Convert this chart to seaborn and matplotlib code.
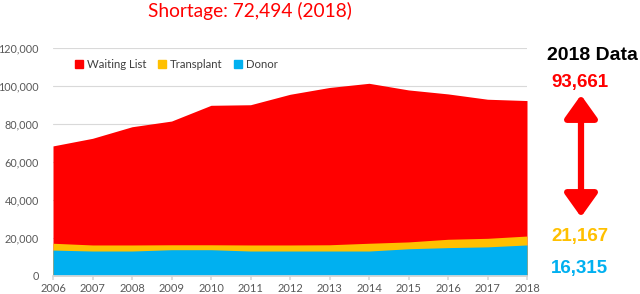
import numpy as np
import pandas as pd
import matplotlib
matplotlib.use("Agg")
import matplotlib.pyplot as plt
import seaborn as sns
from matplotlib.patches import Patch

# values
years = [2006, 2007, 2008, 2009, 2010, 2011, 2012, 2013, 2014, 2015, 2016, 2017, 2018]
waiting_list = [68400, 72400, 78500, 81500, 89800, 90100, 95600, 99200, 101400, 97900, 95800, 93000, 92300]
transplant = [17100, 16200, 16200, 16300, 16300, 16200, 16200, 16300, 17100, 17800, 19200, 19700, 20900]
donor = [13500, 13000, 13000, 13700, 13700, 13000, 13000, 13000, 13000, 14200, 14800, 15200, 16200]

series_names = ["Waiting List", "Transplant", "Donor"]
series_colors = ["#FF0000", "#FFC000", "#00B0F0"]
y_ticks = [0, 20000, 40000, 60000, 80000, 100000, 120000]

title_text = "Shortage: 72,494 (2018)"
side_title = "2018 Data"
side_labels = ["93,661", "21,167", "16,315"]

df = pd.DataFrame({"year": years, "Waiting List": waiting_list,
                   "Transplant": transplant, "Donor": donor})

sns.set_theme(style="white")
plt.rcParams["font.family"] = ["Lato", "DejaVu Sans"]

fig = plt.figure(figsize=(6.4, 2.94), dpi=100)
ax = fig.add_axes([53 / 640, 1 - 275.7 / 294, (527 - 53) / 640, (275.7 - 48) / 294])

# overlapping (not stacked) areas, biggest first
for name, color in zip(series_names, series_colors):
    ax.fill_between(df["year"], 0, df[name], color=color, lw=0, zorder=2)

ax.set_xlim(years[0], years[-1])
ax.set_ylim(0, 120000)
ax.set_yticks(y_ticks)
ax.set_yticklabels([f"{v:,}" for v in y_ticks])
ax.set_xticks(years)
ax.grid(axis="y", color="#D9D9D9", lw=0.8, zorder=0)
ax.set_axisbelow(True)
for s in ["top", "right", "left"]:
    ax.spines[s].set_visible(False)
ax.spines["bottom"].set_color("#D9D9D9")
ax.spines["bottom"].set_zorder(3)
ax.tick_params(axis="x", bottom=True, length=3, color="#D9D9D9", labelsize=8,
               labelcolor="#595959", pad=2)
ax.tick_params(axis="y", left=False, length=0, labelsize=7.8, labelcolor="#595959", pad=10)
ax.set_xlabel("")
ax.set_ylabel("")

handles = [Patch(color=c, label=n) for n, c in zip(series_names, series_colors)]
fig.legend(handles=handles, loc="center left", bbox_to_anchor=(75 / 640, 1 - 64 / 294),
           ncol=3, frameon=False, fontsize=8.2, handlelength=0.7, handleheight=0.7,
           handletextpad=0.35, columnspacing=1.0, borderpad=0, borderaxespad=0,
           labelcolor="#404040")

fig.text(250 / 640, 1 - 11 / 294, title_text, color="#FF0000", fontsize=13.8,
         ha="center", va="center")

side_font = ["Liberation Sans", "DejaVu Sans"]
fig.text(547 / 640, 1 - 55 / 294, side_title, color="black", fontsize=14,
         fontweight="bold", ha="left", va="center", family=side_font)
side_y = [82, 237, 269]
for label, color, yy in zip(side_labels, series_colors, side_y):
    fig.text(551 / 640, 1 - yy / 294, label, color=color, fontsize=13.5,
             fontweight="bold", ha="left", va="center", family=side_font)

ax.annotate("", xy=(581, 294 - 95), xytext=(581, 294 - 217),
            xycoords="figure pixels", textcoords="figure pixels",
            arrowprops=dict(arrowstyle="<|-|>,head_width=0.5,head_length=0.7",
                            color="#FF0000", lw=4.5, mutation_scale=20,
                            shrinkA=0, shrinkB=0))

fig.savefig("out.png", dpi=100)
